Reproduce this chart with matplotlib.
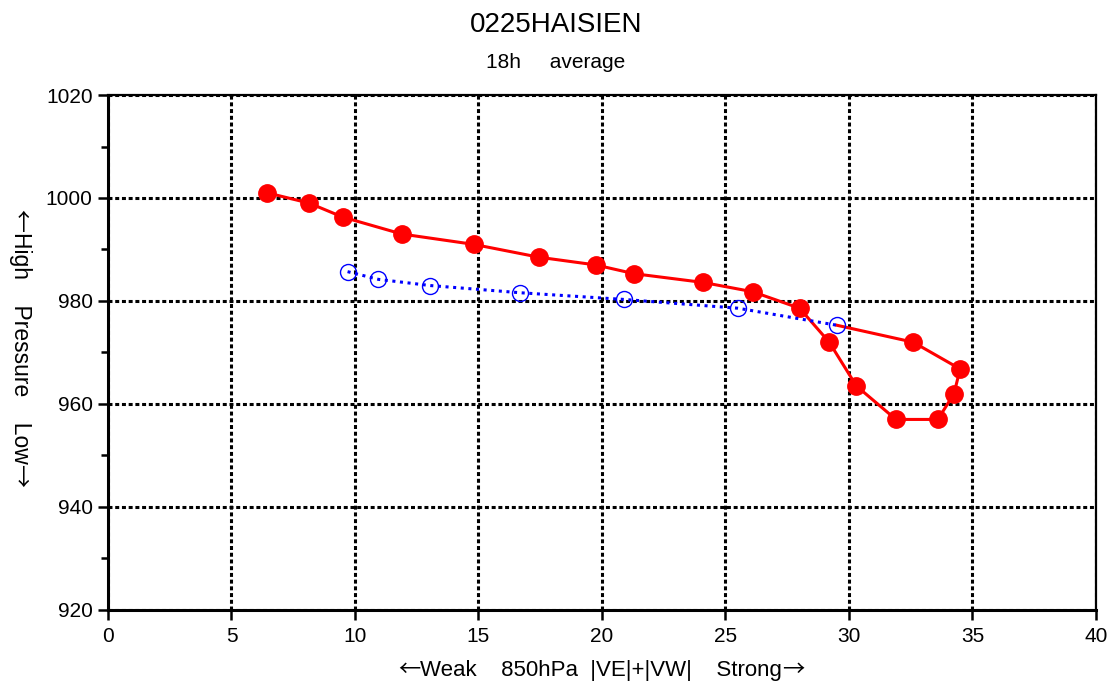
import matplotlib
matplotlib.use("Agg")
import matplotlib.pyplot as plt
from matplotlib.ticker import MultipleLocator

plt.rcParams['font.family'] = ['Liberation Sans', 'DejaVu Sans']

# Red series (track, marker on every point except last)
red_x = [6.45, 8.15, 9.5, 11.9, 14.8, 17.45, 19.75, 21.3, 24.1, 26.1, 28.0, 29.2,
         30.3, 31.9, 33.6, 34.25, 34.5, 32.6, 29.5]
red_y = [1001.0, 999.0, 996.3, 993.0, 991.0, 988.5, 987.0, 985.3, 983.6, 981.8, 978.6, 972.0,
         963.5, 957.0, 957.0, 962.0, 966.8, 972.0, 975.3]

# Blue series (average)
blue_x = [9.7, 10.95, 13.05, 16.7, 20.9, 25.5, 29.5]
blue_y = [985.7, 984.2, 983.0, 981.6, 980.3, 978.6, 975.3]

title = "0225HAISIEN"
subtitle = "18h     average"
xlabel_parts = ["←", "Weak    850hPa  |VE|+|VW|    Strong", "→"]
ylabel_parts = ["←", "High    Pressure    Low", "→"]

W, H = 1112, 682
fig = plt.figure(figsize=(W / 100, H / 100), dpi=100)
ax = fig.add_axes([0.0971, 0.1056, 0.8885, 0.7551])

ax.set_xlim(0, 40)
ax.set_ylim(920, 1020)
ax.xaxis.set_major_locator(MultipleLocator(5))
ax.yaxis.set_major_locator(MultipleLocator(20))
ax.yaxis.set_minor_locator(MultipleLocator(10))

ax.grid(True, which='major', color='black', linewidth=2.2, linestyle=(0, (1.3, 0.9)))
ax.set_axisbelow(True)

ax.plot(red_x, red_y, color='#ff0000', linewidth=2.2, zorder=3)
ax.plot(red_x[:-1], red_y[:-1], linestyle='none', marker='o', markersize=12.5,
        markerfacecolor='#ff0000', markeredgecolor='#ff0000', zorder=4)

ax.plot(blue_x, blue_y, color='#0000ff', linewidth=2.2, linestyle=(0, (1, 1.5)), zorder=5)
ax.plot(blue_x, blue_y, linestyle='none', marker='o', markersize=11.5,
        markerfacecolor='none', markeredgecolor='#0000ff', markeredgewidth=1.0, zorder=6)

for side in ['left', 'bottom']:
    ax.spines[side].set_linewidth(2.2)
for side in ['top', 'right']:
    ax.spines[side].set_linewidth(1.6)
for s in ax.spines.values():
    s.set_zorder(7)

ax.tick_params(axis='both', which='major', direction='out', length=7, width=1.8,
               labelsize=15, colors='black')
ax.tick_params(axis='y', which='minor', direction='out', length=5, width=1.8)
ax.tick_params(axis='x', pad=5)
ax.tick_params(axis='y', pad=4)

fig.text(0.5, 1 - 25 / H, title, ha='center', va='center', fontsize=20)
fig.text(0.5, 1 - 63 / H, subtitle, ha='center', va='center', fontsize=15)

renderer = fig.canvas.get_renderer()
arrow_fam = ['Noto Sans CJK JP', 'DejaVu Sans']
text_fam = ['Liberation Sans', 'DejaVu Sans']


def pieces(parts, cx, cy_baseline, size, vertical=False):
    """Draw text parts in sequence; arrows in a CJK font (full-width)."""
    fams = [arrow_fam, text_fam, arrow_fam]
    widths = []
    for p, f in zip(parts, fams):
        t = fig.text(0, 0, p, fontsize=size, family=f)
        widths.append(t.get_window_extent(renderer).width)
        t.remove()
    total = sum(widths)
    pos = -total / 2
    for p, f, w in zip(parts, fams, widths):
        if vertical:
            x, y = cx, cy_baseline - pos
            fig.text(x / W, y / H, p, fontsize=size, family=f, rotation=-90,
                     rotation_mode='anchor', ha='left', va='baseline')
        else:
            x, y = cx + pos, cy_baseline
            fig.text(x / W, y / H, p, fontsize=size, family=f,
                     ha='left', va='baseline')
        pos += w


# x label: centre x ~601 px, baseline ~676 px from top
pieces(xlabel_parts, 601, H - 676, 16)
# y label: vertical, baseline at x ~14 px, centre y ~348 px from top
pieces(ylabel_parts, 14, H - 348, 16.5, vertical=True)

fig.savefig("out.png", dpi=100)
